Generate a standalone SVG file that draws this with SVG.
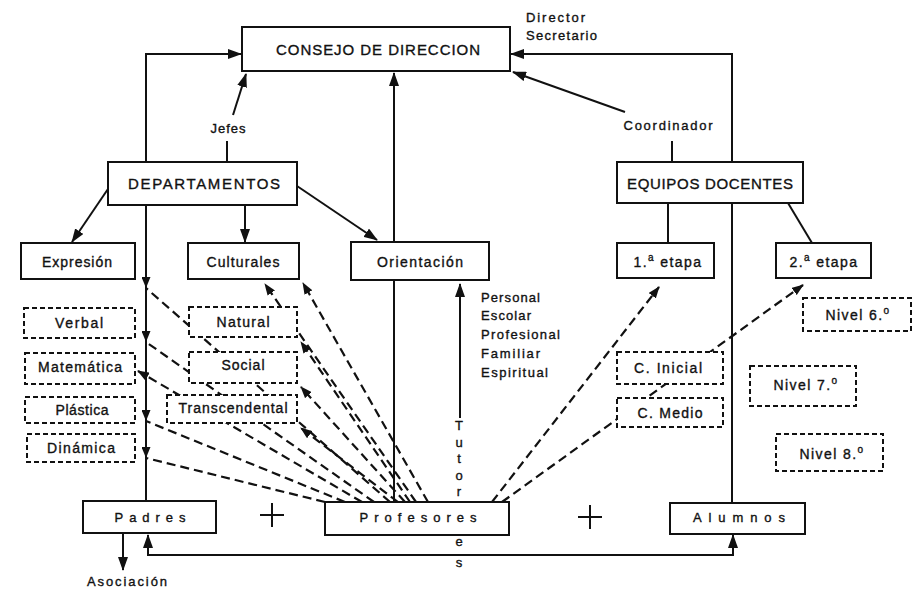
<svg xmlns="http://www.w3.org/2000/svg" width="916" height="589" viewBox="0 0 916 589">
<style>
.bx{fill:#fff;stroke:#111;stroke-width:2}
.db{fill:#fff;stroke:#111;stroke-width:2;stroke-dasharray:5 3}
.ln{fill:none;stroke:#111;stroke-width:2}
.dl{fill:none;stroke:#111;stroke-width:2.2;stroke-dasharray:9 5}
text{font-family:"Liberation Sans",Arial,sans-serif;fill:#111;stroke:#111;stroke-width:0.35}
.c{text-anchor:middle}
.up{font-size:15px}
.lb{font-size:14px}
.sm{font-size:13px}
.sup{font-size:10px}
.ls{letter-spacing:1.4px}
</style>
<defs>
<marker id="ah" viewBox="0 0 14 10" refX="13" refY="5" markerWidth="14" markerHeight="10" markerUnits="userSpaceOnUse" orient="auto-start-reverse"><path d="M0,0 L14,5 L0,10 z" fill="#111"/></marker>
<marker id="ahs" viewBox="0 0 12 9" refX="11" refY="4.5" markerWidth="12" markerHeight="9" markerUnits="userSpaceOnUse" orient="auto"><path d="M0,0 L12,4.5 L0,9 z" fill="#111"/></marker>
<marker id="ahd" viewBox="0 0 11 9" refX="11" refY="4.5" markerWidth="11" markerHeight="9" markerUnits="userSpaceOnUse" orient="90"><path d="M0,0 L11,4.5 L0,9 z" fill="#111"/></marker>
</defs>

<g id="connectors">
  <polyline class="ln" points="146,501 146,54 241,54" marker-end="url(#ah)"/>
  <line class="ln" x1="233" y1="115" x2="246" y2="74" marker-end="url(#ah)"/>
  <line class="ln" x1="227" y1="141" x2="227" y2="162"/>
  <line class="ln" x1="394" y1="502" x2="394" y2="73" marker-end="url(#ah)"/>
  <polyline class="ln" points="732,503 732,54 511,54" marker-end="url(#ah)"/>
  <line class="ln" x1="625" y1="112" x2="513" y2="72" marker-end="url(#ah)"/>
  <line class="ln" x1="672" y1="141" x2="672" y2="162"/>
  <line class="ln" x1="110" y1="186" x2="72" y2="242" marker-end="url(#ah)"/>
  <line class="ln" x1="245" y1="205" x2="245" y2="242" marker-end="url(#ah)"/>
  <line class="ln" x1="297" y1="186" x2="377" y2="240" marker-end="url(#ah)"/>
  <line class="ln" x1="668" y1="203" x2="668" y2="243"/>
  <line class="ln" x1="788" y1="203" x2="812" y2="243"/>
  <line class="ln" x1="460" y1="418" x2="460" y2="284" marker-end="url(#ah)"/>
  <line class="ln" x1="123" y1="533" x2="123" y2="570" marker-end="url(#ah)"/>
  <polyline class="ln" points="148,535 148,555 733,555 733,535" marker-start="url(#ah)" marker-end="url(#ah)"/>
  <path class="ln" d="M260,515 H284 M272,503 V527"/>
  <path class="ln" d="M578,517 H602 M590,505 V529"/>
  <line class="dl" x1="325" y1="502" x2="146" y2="458" marker-end="url(#ahd)"/>
  <line class="dl" x1="345" y1="502" x2="146" y2="421" marker-end="url(#ahd)"/>
  <line class="dl" x1="362" y1="502" x2="138" y2="371" marker-end="url(#ahs)"/>
  <line class="dl" x1="374" y1="502" x2="146" y2="342" marker-end="url(#ahd)"/>
  <line class="dl" x1="390" y1="502" x2="146" y2="288" marker-end="url(#ahd)"/>
  <line class="dl" x1="398" y1="502" x2="301" y2="428" marker-end="url(#ahs)"/>
  <line class="dl" x1="405" y1="502" x2="301" y2="387" marker-end="url(#ahs)"/>
  <line class="dl" x1="410" y1="502" x2="301" y2="342" marker-end="url(#ahs)"/>
  <line class="dl" x1="416" y1="502" x2="265" y2="284" marker-end="url(#ahs)"/>
  <line class="dl" x1="428" y1="502" x2="303" y2="283" marker-end="url(#ahs)"/>
  <line class="dl" x1="492" y1="502" x2="659" y2="287" marker-end="url(#ahs)"/>
  <line class="dl" x1="502" y1="502" x2="803" y2="285" marker-end="url(#ahs)"/>
</g>

<g id="consejo"><rect class="bx" x="242" y="27" width="268" height="44"/><text class="c up" x="378" y="55" textLength="204" lengthAdjust="spacing">CONSEJO DE DIRECCION</text></g>
<g id="director-label"><text class="sm" x="526" y="22" textLength="59" lengthAdjust="spacing">Director</text><text class="sm" x="526" y="40" textLength="71" lengthAdjust="spacing">Secretario</text></g>
<g id="jefes-label"><text class="c sm" x="228" y="133" textLength="35" lengthAdjust="spacing">Jefes</text></g>
<g id="coordinador-label"><text class="c sm" x="668" y="130" textLength="89" lengthAdjust="spacing">Coordinador</text></g>

<g id="departamentos"><rect class="bx" x="108" y="162" width="189" height="43"/><text class="c up" x="204" y="189" textLength="152" lengthAdjust="spacing">DEPARTAMENTOS</text></g>
<g id="equipos"><rect class="bx" x="617" y="162" width="186" height="41"/><text class="c up" x="710" y="189" textLength="166" lengthAdjust="spacing">EQUIPOS DOCENTES</text></g>

<g id="expresion"><rect class="bx" x="21" y="243" width="114" height="36"/><text class="c lb" x="77" y="267" textLength="70" lengthAdjust="spacing">Expresión</text></g>
<g id="culturales"><rect class="bx" x="188" y="243" width="111" height="36"/><text class="c lb" x="243" y="267" textLength="73" lengthAdjust="spacing">Culturales</text></g>
<g id="orientacion"><rect class="bx" x="351" y="242" width="138" height="38"/><text class="c lb" x="420" y="267" textLength="86" lengthAdjust="spacing">Orientación</text></g>
<g id="etapa1"><rect class="bx" x="617" y="243" width="97" height="35"/><text class="c lb ls" x="668" y="267">1.<tspan class="sup" dy="-6">a</tspan><tspan dy="6"> etapa</tspan></text></g>
<g id="etapa2"><rect class="bx" x="776" y="243" width="95" height="35"/><text class="c lb ls" x="824" y="267">2.<tspan class="sup" dy="-6">a</tspan><tspan dy="6"> etapa</tspan></text></g>

<g id="verbal"><rect class="db" x="24" y="308" width="111" height="30"/><text class="c lb" x="79" y="328" textLength="48" lengthAdjust="spacing">Verbal</text></g>
<g id="matematica"><rect class="db" x="25" y="353" width="110" height="31"/><text class="c lb" x="80" y="372" textLength="84" lengthAdjust="spacing">Matemática</text></g>
<g id="plastica"><rect class="db" x="25" y="397" width="110" height="26"/><text class="c lb" x="82" y="415" textLength="53" lengthAdjust="spacing">Plástica</text></g>
<g id="dinamica"><rect class="db" x="27" y="434" width="108" height="28"/><text class="c lb" x="81" y="453" textLength="68" lengthAdjust="spacing">Dinámica</text></g>
<g id="natural"><rect class="db" x="189" y="307" width="108" height="30"/><text class="c lb" x="243" y="327" textLength="53" lengthAdjust="spacing">Natural</text></g>
<g id="social"><rect class="db" x="189" y="352" width="108" height="31"/><text class="c lb" x="243" y="370" textLength="43" lengthAdjust="spacing">Social</text></g>
<g id="transcendental"><rect class="db" x="167" y="395" width="130" height="28"/><text class="c lb" x="233" y="413" textLength="109" lengthAdjust="spacing">Transcendental</text></g>

<g id="c-inicial"><rect class="db" x="617" y="352" width="106" height="32"/><text class="c lb" x="668" y="373" textLength="68" lengthAdjust="spacing">C. Inicial</text></g>
<g id="c-medio"><rect class="db" x="617" y="398" width="106" height="29"/><text class="c lb" x="670" y="418" textLength="65" lengthAdjust="spacing">C. Medio</text></g>
<g id="nivel6"><rect class="db" x="803" y="298" width="108" height="33"/><text class="c lb ls" x="858" y="320">Nivel 6.<tspan class="sup" dy="-6">o</tspan></text></g>
<g id="nivel7"><rect class="db" x="750" y="366" width="106" height="40"/><text class="c lb ls" x="806" y="390">Nivel 7.<tspan class="sup" dy="-6">o</tspan></text></g>
<g id="nivel8"><rect class="db" x="776" y="434" width="107" height="37"/><text class="c lb ls" x="832" y="459">Nivel 8.<tspan class="sup" dy="-6">o</tspan></text></g>

<g id="orientacion-tipos"><text class="sm" x="481" y="302" textLength="59" lengthAdjust="spacing">Personal</text><text class="sm" x="481" y="320" textLength="50" lengthAdjust="spacing">Escolar</text><text class="sm" x="481" y="339" textLength="79" lengthAdjust="spacing">Profesional</text><text class="sm" x="481" y="358" textLength="59" lengthAdjust="spacing">Familiar</text><text class="sm" x="481" y="377" textLength="67" lengthAdjust="spacing">Espiritual</text></g>
<g id="tutores-label"><text class="c sm" x="459" y="430">T</text><text class="c sm" x="459" y="447">u</text><text class="c sm" x="459" y="463">t</text><text class="c sm" x="459" y="480">o</text><text class="c sm" x="459" y="496">r</text><text class="c sm" x="459" y="546">e</text><text class="c sm" x="459" y="567">s</text></g>

<g id="padres"><rect class="bx" x="83" y="501" width="133" height="32"/><text class="c sm" x="150" y="522" textLength="71" lengthAdjust="spacing">Padres</text></g>
<g id="profesores"><rect class="bx" x="325" y="502" width="184" height="33"/><text class="c sm" x="418" y="522" textLength="117" lengthAdjust="spacing">Profesores</text></g>
<g id="alumnos"><rect class="bx" x="670" y="503" width="135" height="31"/><text class="c sm" x="739" y="522" textLength="92" lengthAdjust="spacing">Alumnos</text></g>
<g id="asociacion-label"><text class="c sm" x="127" y="586" textLength="80" lengthAdjust="spacing">Asociación</text></g>
</svg>
